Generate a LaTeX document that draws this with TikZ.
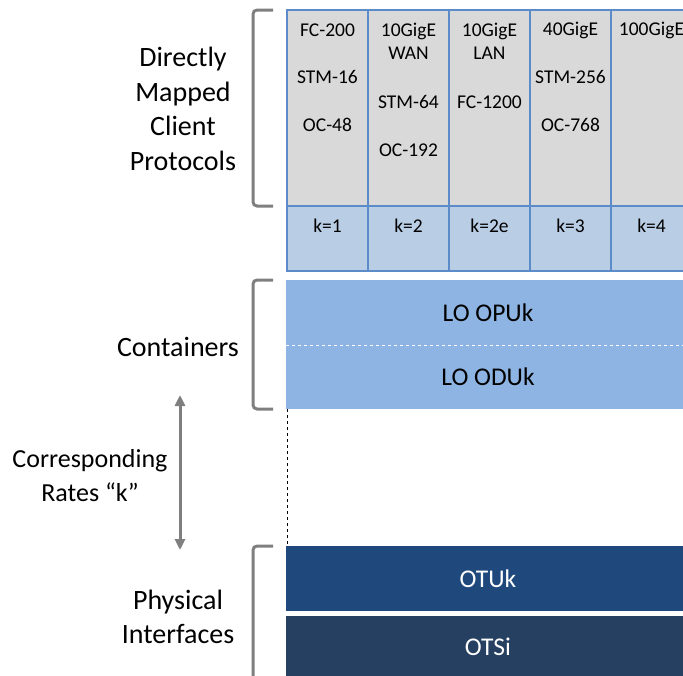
\documentclass[tikz,border=0pt]{standalone}
\usepackage{fontspec}
\setmainfont{Carlito}
\usetikzlibrary{arrows.meta,positioning}

\definecolor{cellgray}{HTML}{D9D9D9}
\definecolor{cellline}{HTML}{5B8BC9}
\definecolor{kblue}{HTML}{B9CDE5}
\definecolor{contblue}{HTML}{8EB4E3}
\definecolor{otublue}{HTML}{1F497D}
\definecolor{otsblue}{HTML}{254061}
\definecolor{brgray}{HTML}{7F7F7F}

\begin{document}
\begin{tikzpicture}[
    x=1pt, y=-1pt,
    >={Triangle[length=11pt,width=10pt]},
    every node/.style={font=\fontsize{19.5}{23}\selectfont, inner sep=0pt, outer sep=0pt},
    cell/.style={
        rectangle, draw=cellline, line width=1.5pt,
        minimum width=81pt, minimum height=196pt,
        fill=cellgray
    },
    krow/.style={
        rectangle, draw=cellline, line width=1.5pt,
        minimum width=81pt, minimum height=65pt,
        fill=kblue
    },
    layer/.style={
        rectangle, minimum width=404pt, minimum height=65pt,
        anchor=north west, font=\fontsize{25.5}{30}\selectfont
    },
    side/.style={align=center, font=\fontsize{28}{34.5}\selectfont},
    brace/.style={draw=brgray, line width=3pt, rounded corners=4pt},
    dbl/.style={<->, draw=brgray, line width=3pt}
]
    \clip (0,0) rectangle (683,675);

    % Client protocol columns
    \node[cell] (C1) [anchor=north west] at (287,10) {};
    \node[cell] (C2) [right=0pt of C1] {};
    \node[cell] (C3) [right=0pt of C2] {};
    \node[cell] (C4) [right=0pt of C3] {};
    \node[cell] (C5) [right=0pt of C4] {};

    % Rate row
    \node[krow] (K1) [below=0pt of C1] {};
    \node[krow] (K2) [below=0pt of C2] {};
    \node[krow] (K3) [below=0pt of C3] {};
    \node[krow] (K4) [below=0pt of C4] {};
    \node[krow] (K5) [below=0pt of C5] {};

    % Protocol names
    \node (fc200)  at (C1.north |- 0,30)  {FC-200};
    \node (stm16)  at (C1.north |- 0,77)  {STM-16};
    \node (oc48)   at (C1.north |- 0,125) {OC-48};
    \node (wan)    at (C2.north |- 0,41)  [align=center] {10GigE\\WAN};
    \node (stm64)  at (C2.north |- 0,102) {STM-64};
    \node (oc192)  at (C2.north |- 0,150) {OC-192};
    \node (lan)    at (C3.north |- 0,41)  [align=center] {10GigE\\LAN};
    \node (fc1200) at (C3.north |- 0,102) {FC-1200};
    \node (g40)    at (C4.north |- 0,30)  {40GigE};
    \node (stm256) at (C4.north |- 0,77)  {STM-256};
    \node (oc768)  at (C4.north |- 0,125) {OC-768};
    \node (g100)   at (C5.north |- 0,30)  {100GigE};

    % Rate labels
    \node (k1)  at (K1.north |- 0,226) {k=1};
    \node (k2)  at (K2.north |- 0,226) {k=2};
    \node (k2e) at (K3.north |- 0,226) {k=2e};
    \node (k3)  at (K4.north |- 0,226) {k=3};
    \node (k4)  at (K5.north |- 0,226) {k=4};

    % Containers
    \node[layer, fill=contblue] (OPU) at (286,280) {LO OPUk};
    \node[layer, fill=contblue, minimum height=64pt] (ODU) [below=0pt of OPU] {LO ODUk};
    \draw[white, dashed, line width=0.8pt] (OPU.south west) -- (OPU.south east);

    % Physical interfaces
    \node[layer, fill=otublue, text=white] (OTU) at (286,546) {OTUk};
    \node[layer, fill=otsblue, text=white, minimum height=62pt] (OTS) [below=5pt of OTU] {OTSi};
    \draw[black, dashed, line width=0.8pt] ([xshift=1pt]ODU.south west) -- ([xshift=1pt]OTU.north west);

    % Brackets
    \draw[brace] (273,10) -- (253,10) -- (253,206) -- (273,206);
    \draw[brace] (273,280) -- (253,280) -- (253,409) -- (273,409);
    \draw[brace] (273,546) -- (253,546) -- (253,690);

    % Side labels
    \node[side] (client) at (183,109) {Directly\\Mapped\\Client\\Protocols};
    \node[side] (cont) at (178,347) {Containers};
    \node[side, font=\fontsize{26}{34}\selectfont] (rates) at (90,476) {Corresponding\\Rates “k”};
    \node[side] (phys) at (178,617) {Physical\\Interfaces};

    % Rate arrow
    \coordinate (atop) at (180,395);
    \coordinate (abot) at (180,550);
    \draw[dbl] (atop) -- (abot);

\end{tikzpicture}
\end{document}
